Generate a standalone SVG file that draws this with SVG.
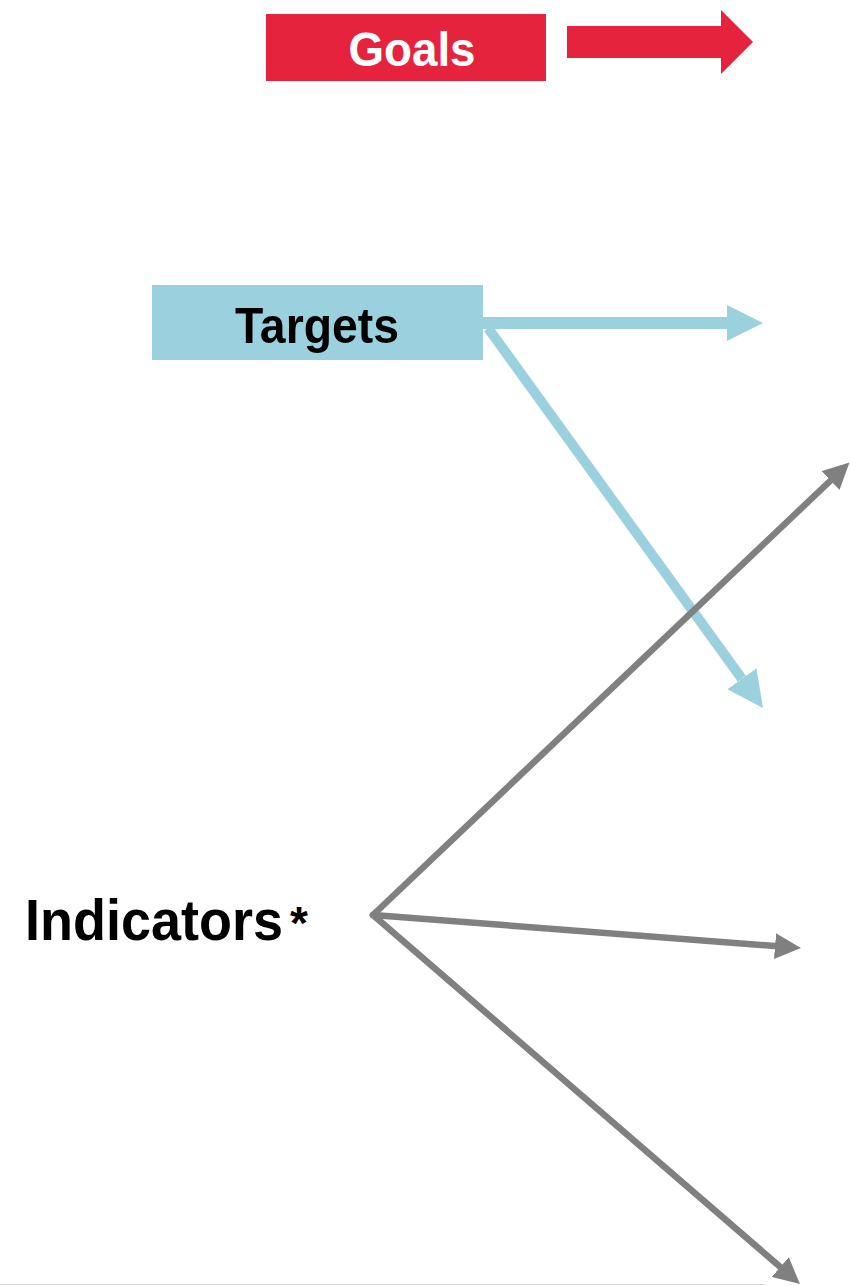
<svg xmlns="http://www.w3.org/2000/svg" width="850" height="1286" viewBox="0 0 850 1286">
<style>
.lbl{font-family:"Liberation Sans","Open Sans",Arial,sans-serif;font-weight:bold}
.gray{stroke:#808080;stroke-width:6.5;fill:none;stroke-linecap:round}
.blue{stroke:#9BD1DE;fill:none}
</style>
<defs>
<marker id="hg" markerUnits="userSpaceOnUse" markerWidth="26" markerHeight="26" viewBox="0 0 26 26" refX="0" refY="13" orient="auto">
<path d="M0,0 L26,13 L0,26 z" fill="#808080"/>
</marker>
<marker id="hb" markerUnits="userSpaceOnUse" markerWidth="36" markerHeight="36" viewBox="0 0 36 36" refX="0" refY="18" orient="auto">
<path d="M0,0 L36,18 L0,36 z" fill="#9BD1DE"/>
</marker>
</defs>
<rect width="850" height="1286" fill="#fff"/>
<line x1="0" y1="1284.5" x2="765" y2="1284.5" stroke="#d9d9d9" stroke-width="1"/>
<g id="connectors">
<polygon points="567,26 721,26 721,10 753,42 721,74 721,58 567,58" fill="#E5233D"/>
<line class="blue" x1="483" y1="323" x2="727" y2="323" stroke-width="12" marker-end="url(#hb)"/>
<line class="blue" x1="488" y1="328" x2="741.9" y2="678.8" stroke-width="10" marker-end="url(#hb)"/>
<line class="gray" x1="373" y1="915" x2="830.6" y2="480.5" marker-end="url(#hg)"/>
<line class="gray" x1="373" y1="915" x2="775" y2="946.1" marker-end="url(#hg)"/>
<line class="gray" x1="373" y1="915" x2="780.3" y2="1267" marker-end="url(#hg)"/>
</g>
<g id="goals">
<rect x="266" y="14" width="280" height="67" fill="#E5233D"/>
<text class="lbl" x="412" y="66" font-size="48" fill="#fff" text-anchor="middle" textLength="127" lengthAdjust="spacingAndGlyphs">Goals</text>
</g>
<g id="targets">
<rect x="152" y="285" width="331" height="75" fill="#9BD1DE"/>
<text class="lbl" x="317" y="343" font-size="50" fill="#000" text-anchor="middle" textLength="164" lengthAdjust="spacingAndGlyphs">Targets</text>
</g>
<g id="indicators">
<text class="lbl" y="940" font-size="58" fill="#000"><tspan x="25" textLength="258" lengthAdjust="spacingAndGlyphs">Indicators</tspan><tspan x="290" y="939" font-size="46">*</tspan></text>
</g>
</svg>
